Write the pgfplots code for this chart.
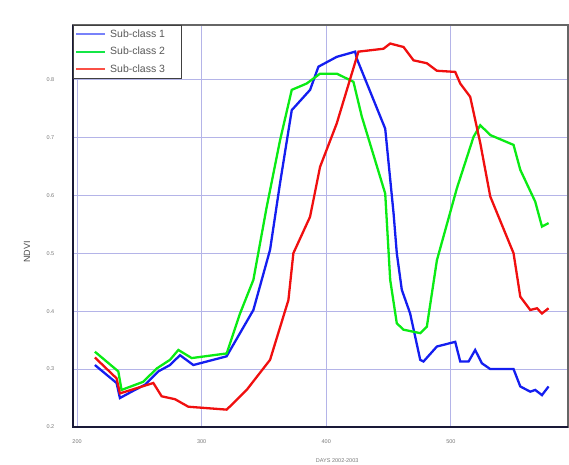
\documentclass[border=0pt]{standalone}
\usepackage{fontspec}
\setmainfont{Liberation Sans}
\usepackage{pgfplots}
\pgfplotsset{compat=1.18}
\definecolor{gridc}{RGB}{180,180,232}
\definecolor{sblue}{RGB}{20,30,240}
\definecolor{sgreen}{RGB}{10,235,20}
\definecolor{sred}{RGB}{240,15,15}
\definecolor{lblue}{RGB}{120,130,250}
\definecolor{lgreen}{RGB}{20,230,70}
\definecolor{lred}{RGB}{250,80,70}
\definecolor{navy}{RGB}{25,25,55}
\definecolor{tickc}{RGB}{120,120,120}
\begin{document}
\begin{tikzpicture}[x=1pt,y=1pt]
\useasboundingbox (0,0) rectangle (569,464);
\begin{axis}[
  at={(72.7pt,37pt)}, anchor=south west,
  scale only axis, width=495.3pt, height=402pt,
  xmin=196.5, xmax=594, ymin=0.2, ymax=0.894,
  xtick={200,300,400,500}, ytick={0.2,0.3,0.4,0.5,0.6,0.7,0.8},
  /pgf/number format/assume math mode=true,
  /pgf/number format/fixed, /pgf/number format/precision=1,
  grid=major,
  major grid style={color=gridc, line width=0.8pt},
  major tick length=0pt,
  axis line style={color=gray!80!black, line width=1.1pt},
  xticklabel style={font=\fontsize{5.5}{6}\selectfont, text=tickc, yshift=-9pt},
  yticklabel style={font=\fontsize{5.5}{6}\selectfont, text=tickc, xshift=-15pt},
  ylabel={NDVI},
  ylabel style={at={(axis description cs:-0.092,0.435)}, anchor=center, font=\fontsize{9}{10}\selectfont, text=black!70},
  xlabel={DAYS 2002-2003},
  xlabel style={at={(axis description cs:0.534,-0.083)}, anchor=center, font=\fontsize{5.5}{6}\selectfont, text=tickc},
  legend style={at={(0,1)}, anchor=north west, draw=black!75, line width=1pt,
    font=\fontsize{10.5}{12}\selectfont, text=black!65, row sep=4.4pt,
    inner xsep=2pt, inner ysep=2.2pt, legend cell align=left,
    nodes={inner xsep=4pt}},
  legend image code/.code={\path (0pt,0pt) -- (29pt,0pt); \draw[#1] (7pt,0pt) -- (29pt,0pt);},
  after end axis/.code={
    \draw[navy, line width=2.2pt] (rel axis cs:0,1) -- (rel axis cs:0,0) -- (rel axis cs:1,0);
  },
]
\addlegendimage{color=lblue, line width=2pt}
\addlegendentry{Sub-class 1\rule{10pt}{0pt}}
\addlegendimage{color=lgreen, line width=2pt}
\addlegendentry{Sub-class 2\rule{10pt}{0pt}}
\addlegendimage{color=lred, line width=2pt}
\addlegendentry{Sub-class 3\rule{10pt}{0pt}}

\addplot[sblue, line width=2.3pt, forget plot] coordinates {
(214.3,0.307) (231.7,0.276) (234.4,0.250) (243.8,0.261) (254.5,0.273)
(265.2,0.296) (274.6,0.307) (282.6,0.324) (293.3,0.307) (320.0,0.322)
(341.5,0.402) (354.9,0.506) (362.9,0.621) (372.3,0.747) (387.0,0.782)
(393.7,0.822) (408.4,0.839) (423.2,0.848) (424.5,0.836) (447.3,0.715)
(454.0,0.569) (456.6,0.500) (460.6,0.437) (467.3,0.396) (475.4,0.316)
(478.0,0.313) (488.8,0.339) (503.5,0.347) (507.5,0.313) (514.2,0.313)
(519.5,0.333) (524.9,0.310) (531.6,0.300) (550.3,0.300) (555.7,0.270)
(563.7,0.261) (567.7,0.264) (573.1,0.255) (578.4,0.270)
};
\addplot[sgreen, line width=2.3pt, forget plot] coordinates {
(214.3,0.330) (233.1,0.296) (235.7,0.264) (253.1,0.278) (263.9,0.301)
(274.6,0.316) (281.3,0.333) (292.0,0.319) (320.1,0.327) (330.8,0.396)
(341.5,0.454) (352.2,0.580) (362.9,0.695) (372.3,0.782) (384.3,0.793)
(395.0,0.810) (408.4,0.810) (421.8,0.796) (428.5,0.736) (447.3,0.603)
(451.3,0.454) (456.6,0.379) (462.0,0.368) (475.4,0.362) (480.7,0.373)
(488.8,0.488) (504.8,0.612) (518.2,0.701) (523.6,0.721) (531.6,0.704)
(550.3,0.687) (555.7,0.644) (567.7,0.589) (573.1,0.546) (578.4,0.552)
};
\addplot[sred, line width=2.3pt, forget plot] coordinates {
(214.3,0.320) (231.7,0.284) (234.4,0.258) (261.2,0.276) (267.9,0.253)
(278.6,0.248) (289.3,0.235) (320.1,0.230) (336.1,0.264) (354.9,0.316)
(369.6,0.419) (373.6,0.500) (387.0,0.563) (395.0,0.649) (408.4,0.724)
(425.8,0.848) (445.9,0.853) (451.3,0.862) (462.0,0.856) (470.0,0.833)
(480.7,0.828) (488.8,0.815) (503.5,0.813) (507.5,0.793) (515.5,0.770)
(523.6,0.690) (531.6,0.598) (550.3,0.500) (555.7,0.425) (563.7,0.402)
(569.1,0.405) (573.1,0.396) (578.4,0.405)
};
\end{axis}
\end{tikzpicture}
\end{document}
